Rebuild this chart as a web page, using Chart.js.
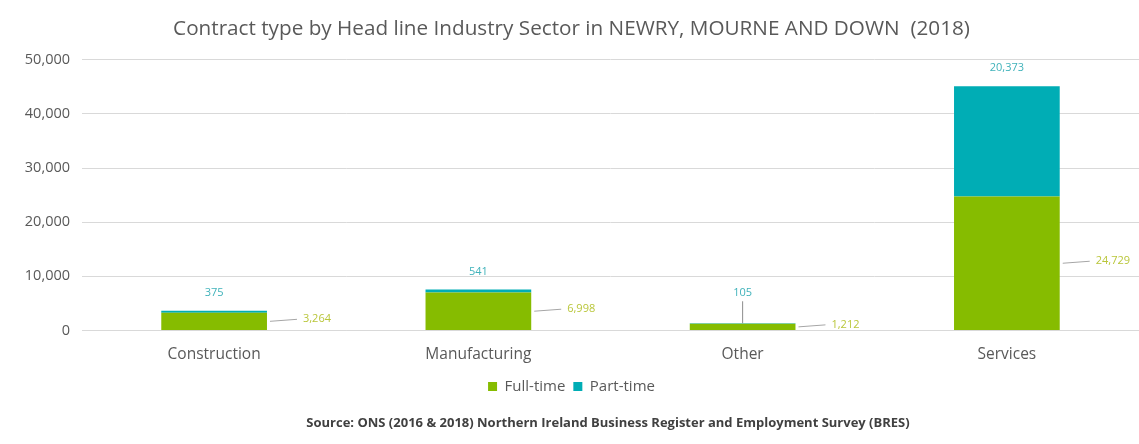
<!DOCTYPE html>
<html>
<head>
<meta charset="utf-8">
<script src="https://cdn.jsdelivr.net/npm/chart.js@4/dist/chart.umd.min.js"></script>
<style>
  html, body { margin: 0; padding: 0; background: #fff; }
  #wrap { width: 1139px; height: 444px; }
</style>
</head>
<body>
<div id="wrap"><canvas id="contractChart"></canvas></div>
<script>
var sectors = ['Construction', 'Manufacturing', 'Other', 'Services'];
var fullTime = [3264, 6998, 1212, 24729];
var partTime = [375, 541, 105, 20373];
var yTicks = [0, 10000, 20000, 30000, 40000, 50000];

var chartTitle = 'Contract type by Head line Industry Sector in NEWRY, MOURNE AND DOWN  (2018)';
var sourceNote = 'Source: ONS (2016 & 2018) Northern Ireland Business Register and Employment Survey (BRES)';

var green = '#86bc00';
var teal = '#00adb5';

function fmt(n) {
    return n.toLocaleString('en-GB');
}

// value labels: full-time to the right with a leader line, part-time above the stack
var valueLabels = {
    id: 'valueLabels',
    afterDatasetsDraw: function(chart) {
        var ctx = chart.ctx;
        var ftBars = chart.getDatasetMeta(0).data;
        var ptBars = chart.getDatasetMeta(1).data;
        ctx.save();
        ctx.font = '11px "Open Sans"';
        ctx.textBaseline = 'middle';
        ftBars.forEach(function(bar, i) {
            var right = bar.x + bar.width / 2;
            var midY = (bar.y + bar.base) / 2;
            ctx.strokeStyle = '#a6a6a6';
            ctx.lineWidth = 1;
            ctx.beginPath();
            ctx.moveTo(right + 3, midY);
            ctx.lineTo(right + 30, midY - 2);
            ctx.stroke();
            ctx.fillStyle = '#b9c63a';
            ctx.textAlign = 'left';
            ctx.fillText(fmt(fullTime[i]), right + 36, midY - 2);
        });
        ptBars.forEach(function(bar, i) {
            var top = Math.min(bar.y, bar.base);
            var h = Math.abs(bar.base - bar.y);
            var ly = top - 18;
            // tiny segments get a short vertical leader to their label
            if (h < 1.5) {
                ly = top - 30;
                ctx.strokeStyle = '#8c8c8c';
                ctx.beginPath();
                ctx.moveTo(bar.x, ly + 8);
                ctx.lineTo(bar.x, top);
                ctx.stroke();
            }
            ctx.fillStyle = '#3fb2ba';
            ctx.textAlign = 'center';
            ctx.fillText(fmt(partTime[i]), bar.x, ly);
        });
        ctx.restore();
    }
};

// source line under the legend
var sourceLine = {
    id: 'sourceLine',
    afterDraw: function(chart) {
        var ctx = chart.ctx;
        ctx.save();
        ctx.font = 'bold 13px "Open Sans"';
        ctx.fillStyle = '#404040';
        ctx.textAlign = 'center';
        ctx.textBaseline = 'middle';
        ctx.fillText(sourceNote, 608, chart.height - 21);
        ctx.restore();
    }
};

var ctx = document.getElementById('contractChart').getContext('2d');
new Chart(ctx, {
    type: 'bar',
    data: {
        labels: sectors,
        datasets: [
            { label: 'Full-time', data: fullTime, backgroundColor: green },
            { label: 'Part-time', data: partTime, backgroundColor: teal }
        ]
    },
    options: {
        responsive: true,
        maintainAspectRatio: false,
        animation: false,
        layout: { padding: { left: 4, right: 0, top: 6, bottom: 40 } },
        categoryPercentage: 0.8,
        barPercentage: 0.5,
        plugins: {
            title: {
                display: true,
                text: chartTitle,
                color: '#595959',
                font: { family: 'Open Sans', size: 20.7, weight: 'normal' },
                padding: { top: 11, bottom: 18 }
            },
            legend: {
                position: 'bottom',
                labels: {
                    color: '#595959',
                    font: { family: 'Open Sans', size: 15 },
                    boxWidth: 9,
                    boxHeight: 9,
                    padding: 8
                }
            },
            tooltip: { enabled: false }
        },
        scales: {
            x: {
                stacked: true,
                grid: { display: false },
                border: { color: '#d9d9d9' },
                ticks: { color: '#595959', font: { family: 'Open Sans', size: 15.5 }, padding: 7 }
            },
            y: {
                stacked: true,
                min: 0,
                max: 50000,
                afterFit: function(s) { s.width = 78; },
                afterBuildTicks: function(s) {
                    s.ticks = yTicks.map(function(v) { return { value: v }; });
                },
                grid: { color: '#d9d9d9', drawTicks: false },
                border: { display: false },
                ticks: {
                    color: '#595959',
                    font: { family: 'Open Sans', size: 14.5 },
                    padding: 12,
                    callback: function(v) { return fmt(v); }
                }
            }
        }
    },
    plugins: [valueLabels, sourceLine]
});
</script>
</body>
</html>
